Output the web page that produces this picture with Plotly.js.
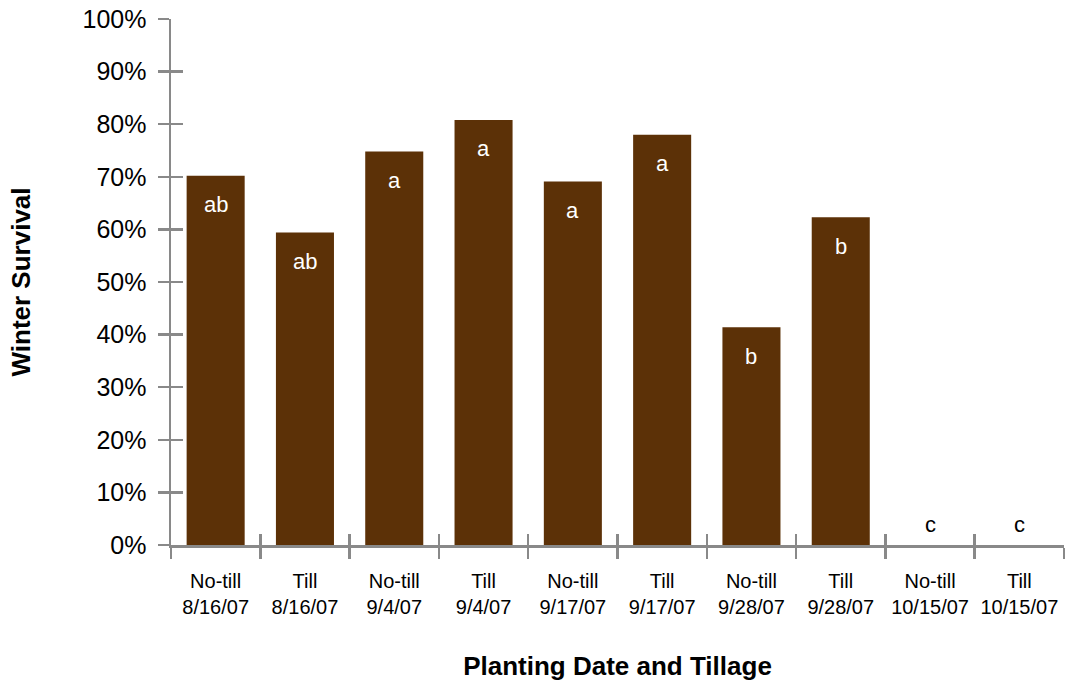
<!DOCTYPE html>
<html>
<head>
<meta charset="utf-8">
<script src="https://cdn.plot.ly/plotly-3.0.1.min.js"></script>
<style>html,body{margin:0;padding:0;background:#fff;}#chart{width:1075px;height:683px;}</style>
</head>
<body>
<div id="chart"></div>
<script>
const categories = ["No-till<br>8/16/07","Till<br>8/16/07","No-till<br>9/4/07","Till<br>9/4/07","No-till<br>9/17/07","Till<br>9/17/07","No-till<br>9/28/07","Till<br>9/28/07","No-till<br>10/15/07","Till<br>10/15/07"];
const survival = [70.2, 59.4, 74.8, 80.8, 69.1, 78.0, 41.4, 62.3, 0, 0];
const letters = ["ab","ab","a","a","a","a","b","b","c","c"];
const yTickVals = [0,10,20,30,40,50,60,70,80,90,100];

const FONT = "Liberation Sans, Arial, Helvetica, sans-serif";
const AXIS = "#898989";
const BAR = "#5c3107";

const traces = [
  {type:"bar", x:categories, y:survival, marker:{color:BAR}, hoverinfo:"skip"},
  {type:"scatter", mode:"none", x:categories, y:survival, xaxis:"x2", yaxis:"y2", hoverinfo:"skip", showlegend:false}
];

const annotations = letters.map((t,i)=>({
  x: categories[i], y: survival[i], xref:"x", yref:"y",
  text: t, showarrow:false, yanchor:"middle",
  yshift: survival[i] > 0 ? -29 : 21,
  font:{family:FONT, size:22, color: survival[i] > 0 ? "#ffffff" : "#000000"}
}));

const common = {type:"category", categoryorder:"array", categoryarray:categories, range:[-0.5,9.5], tickson:"boundaries", showgrid:false, zeroline:false, ticklen:11, tickwidth:2.5, tickcolor:AXIS, fixedrange:true, tickangle:0};

const layout = {
  width:1075, height:683,
  margin:{l:171, r:11, t:19, b:138},
  paper_bgcolor:"#fff", plot_bgcolor:"#fff",
  showlegend:false,
  bargap:0.35,
  xaxis: Object.assign({}, common, {
    ticks:"outside", showline:true, linecolor:AXIS, linewidth:2.5,
    tickfont:{family:FONT, size:20, color:"#000"}, ticklabelstandoff:16,
    title:{text:"<b>Planting Date and Tillage</b>", font:{family:FONT, size:26, color:"#000"}, standoff:41}
  }),
  xaxis2: Object.assign({}, common, {
    overlaying:"x", ticks:"inside", showline:false, showticklabels:false, anchor:"y2"
  }),
  yaxis: {
    range:[0,100], tickvals:yTickVals, ticktext:yTickVals.map(v=>v+"%"),
    ticks:"outside", ticklen:11, tickwidth:2.5, tickcolor:AXIS,
    showline:true, linecolor:AXIS, linewidth:2.5, showgrid:false, zeroline:false,
    tickfont:{family:FONT, size:25, color:"#000"}, ticklabelstandoff:6,
    title:{text:"<b>Winter Survival</b>", font:{family:FONT, size:26, color:"#000"}, standoff:45},
    fixedrange:true
  },
  yaxis2: {
    overlaying:"y", anchor:"x2", range:[0,100], tickvals:yTickVals,
    ticks:"inside", ticklen:12, tickwidth:2.5, tickcolor:AXIS,
    showticklabels:false, showline:false, showgrid:false, zeroline:false, fixedrange:true
  },
  annotations: annotations
};

Plotly.newPlot("chart", traces, layout, {staticPlot:true, displayModeBar:false});
</script>
</body>
</html>
